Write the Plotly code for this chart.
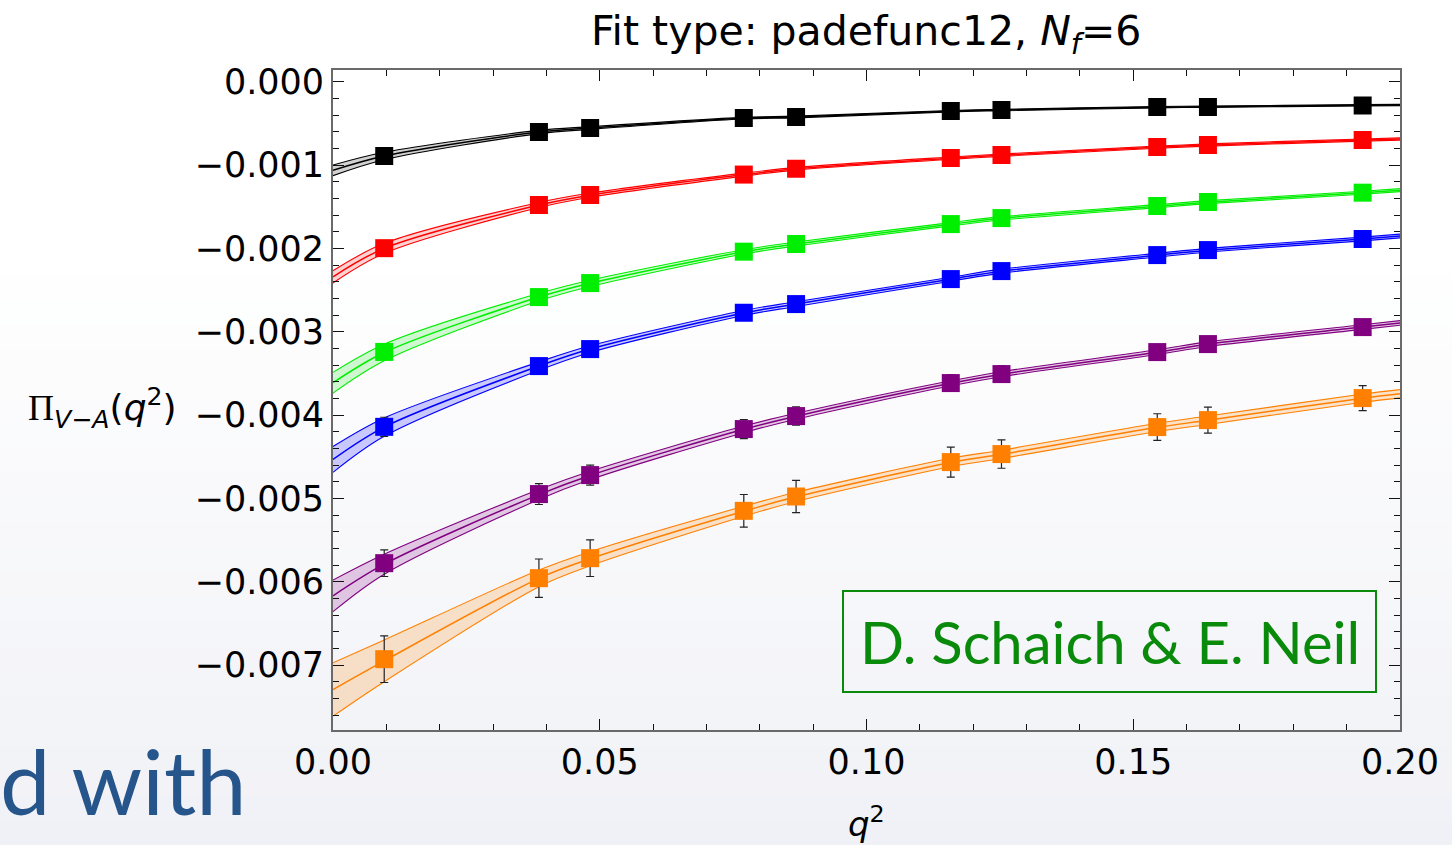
import plotly.graph_objects as go

# ---------------- data ----------------
q2 = [0.0096, 0.0386, 0.0482, 0.0770, 0.0868, 0.1158, 0.1253, 0.1545, 0.1640, 0.1930]

pi_black  = [-0.892e-3, -0.604e-3, -0.556e-3, -0.436e-3, -0.424e-3, -0.352e-3, -0.340e-3, -0.304e-3, -0.304e-3, -0.286e-3]
pi_red    = [-1.998e-3, -1.480e-3, -1.360e-3, -1.115e-3, -1.045e-3, -0.916e-3, -0.880e-3, -0.784e-3, -0.760e-3, -0.700e-3]
pi_green  = [-3.243e-3, -2.585e-3, -2.417e-3, -2.040e-3, -1.948e-3, -1.709e-3, -1.637e-3, -1.492e-3, -1.444e-3, -1.332e-3]
pi_blue   = [-4.142e-3, -3.413e-3, -3.209e-3, -2.773e-3, -2.669e-3, -2.369e-3, -2.273e-3, -2.081e-3, -2.021e-3, -1.888e-3]
pi_purple = [-5.778e-3, -4.949e-3, -4.721e-3, -4.169e-3, -4.013e-3, -3.617e-3, -3.509e-3, -3.245e-3, -3.149e-3, -2.945e-3]
pi_orange = [-6.930e-3, -5.958e-3, -5.718e-3, -5.150e-3, -4.978e-3, -4.565e-3, -4.469e-3, -4.145e-3, -4.061e-3, -3.797e-3]

err_black  = [0.030e-3, 0.020e-3, 0.020e-3, 0.015e-3, 0.015e-3, 0.012e-3, 0.012e-3, 0.010e-3, 0.010e-3, 0.010e-3]
err_red    = [0.050e-3, 0.035e-3, 0.030e-3, 0.030e-3, 0.025e-3, 0.020e-3, 0.020e-3, 0.020e-3, 0.020e-3, 0.020e-3]
err_green  = [0.070e-3, 0.050e-3, 0.050e-3, 0.040e-3, 0.040e-3, 0.035e-3, 0.035e-3, 0.030e-3, 0.030e-3, 0.030e-3]
err_blue   = [0.115e-3, 0.080e-3, 0.075e-3, 0.070e-3, 0.065e-3, 0.060e-3, 0.060e-3, 0.055e-3, 0.055e-3, 0.050e-3]
err_purple = [0.160e-3, 0.125e-3, 0.120e-3, 0.115e-3, 0.110e-3, 0.100e-3, 0.100e-3, 0.090e-3, 0.090e-3, 0.085e-3]
err_orange = [0.280e-3, 0.230e-3, 0.220e-3, 0.196e-3, 0.194e-3, 0.180e-3, 0.170e-3, 0.160e-3, 0.156e-3, 0.150e-3]

# fit curves (central value and half-width of the error band)
fit_q2 = [0.0, 0.0096, 0.0386, 0.0482, 0.0770, 0.0868, 0.1158, 0.1253, 0.1545, 0.1640, 0.1930, 0.2000]

fit_black  = [-1.064e-3, -0.892e-3, -0.604e-3, -0.556e-3, -0.438e-3, -0.424e-3, -0.354e-3, -0.341e-3, -0.306e-3, -0.300e-3, -0.284e-3, -0.280e-3]
fit_red    = [-2.342e-3, -2.000e-3, -1.480e-3, -1.362e-3, -1.115e-3, -1.045e-3, -0.918e-3, -0.882e-3, -0.786e-3, -0.760e-3, -0.701e-3, -0.688e-3]
fit_green  = [-3.613e-3, -3.250e-3, -2.585e-3, -2.420e-3, -2.042e-3, -1.948e-3, -1.711e-3, -1.640e-3, -1.494e-3, -1.446e-3, -1.333e-3, -1.302e-3]
fit_blue   = [-4.533e-3, -4.145e-3, -3.413e-3, -3.209e-3, -2.775e-3, -2.669e-3, -2.370e-3, -2.274e-3, -2.082e-3, -2.022e-3, -1.888e-3, -1.852e-3]
fit_purple = [-6.170e-3, -5.790e-3, -4.955e-3, -4.725e-3, -4.172e-3, -4.015e-3, -3.620e-3, -3.510e-3, -3.246e-3, -3.150e-3, -2.945e-3, -2.895e-3]
fit_orange = [-7.294e-3, -6.950e-3, -5.960e-3, -5.725e-3, -5.155e-3, -4.982e-3, -4.570e-3, -4.472e-3, -4.148e-3, -4.063e-3, -3.798e-3, -3.745e-3]

band_black  = [0.064e-3, 0.045e-3, 0.020e-3, 0.016e-3, 0.010e-3, 0.010e-3, 0.008e-3, 0.008e-3, 0.008e-3, 0.008e-3, 0.008e-3, 0.008e-3]
band_red    = [0.073e-3, 0.060e-3, 0.030e-3, 0.025e-3, 0.018e-3, 0.016e-3, 0.014e-3, 0.014e-3, 0.013e-3, 0.013e-3, 0.013e-3, 0.013e-3]
band_green  = [0.125e-3, 0.100e-3, 0.045e-3, 0.038e-3, 0.026e-3, 0.024e-3, 0.020e-3, 0.020e-3, 0.018e-3, 0.018e-3, 0.018e-3, 0.018e-3]
band_blue   = [0.155e-3, 0.110e-3, 0.050e-3, 0.040e-3, 0.030e-3, 0.028e-3, 0.024e-3, 0.024e-3, 0.022e-3, 0.022e-3, 0.022e-3, 0.022e-3]
band_purple = [0.190e-3, 0.120e-3, 0.060e-3, 0.050e-3, 0.040e-3, 0.035e-3, 0.030e-3, 0.030e-3, 0.028e-3, 0.028e-3, 0.028e-3, 0.028e-3]
band_orange = [0.320e-3, 0.250e-3, 0.100e-3, 0.085e-3, 0.060e-3, 0.055e-3, 0.050e-3, 0.050e-3, 0.050e-3, 0.050e-3, 0.050e-3, 0.050e-3]

x_ticks = [0.00, 0.05, 0.10, 0.15, 0.20]
y_ticks = [0.000, -0.001, -0.002, -0.003, -0.004, -0.005, -0.006, -0.007]

series = [
    ("black",  "#000000", "rgba(0,0,0,0.18)",      pi_black,  err_black,  fit_black,  band_black),
    ("red",    "#ff0000", "rgba(255,0,0,0.18)",    pi_red,    err_red,    fit_red,    band_red),
    ("green",  "#00ee00", "rgba(0,230,0,0.18)",    pi_green,  err_green,  fit_green,  band_green),
    ("blue",   "#0000ff", "rgba(0,0,255,0.2)",     pi_blue,   err_blue,   fit_blue,   band_blue),
    ("purple", "#800080", "rgba(128,0,128,0.2)",   pi_purple, err_purple, fit_purple, band_purple),
    ("orange", "#ff8000", "rgba(255,128,0,0.2)",   pi_orange, err_orange, fit_orange, band_orange),
]

# ---------------- layout geometry (pixels) ----------------
W, H = 1452, 845
PL, PR, PT, PB = 333, 1400, 70, 730


def px_x(p):
    return (p - PL) / (PR - PL)


def px_y(p):
    return (PB - p) / (PB - PT)


fig = go.Figure()

# background gradient of the slide
n_bands = 24
g0, g1 = 250, H
for i in range(n_bands):
    y_top = g0 + (g1 - g0) * i / n_bands
    y_bot = g0 + (g1 - g0) * (i + 1) / n_bands
    t = (i + 0.5) / n_bands
    r = round(255 - 15 * t)
    g = round(255 - 14 * t)
    b = round(255 - 9 * t)
    fig.add_shape(type="rect", xref="paper", yref="paper",
                  x0=px_x(-5), x1=px_x(W + 5), y0=px_y(y_bot + 1), y1=px_y(y_top),
                  fillcolor=f"rgb({r},{g},{b})", line=dict(width=0), layer="below")

# bands and fit lines
for name, col, fill, pts, err, fit, band in series:
    upper = [c + h for c, h in zip(fit, band)]
    lower = [c - h for c, h in zip(fit, band)]
    fig.add_trace(go.Scatter(x=fit_q2, y=lower, mode="lines",
                             line=dict(color=col, width=1.1, shape="spline", smoothing=0.9),
                             showlegend=False, hoverinfo="skip"))
    fig.add_trace(go.Scatter(x=fit_q2, y=upper, mode="lines", fill="tonexty", fillcolor=fill,
                             line=dict(color=col, width=1.1, shape="spline", smoothing=0.9),
                             showlegend=False, hoverinfo="skip"))
    fig.add_trace(go.Scatter(x=fit_q2, y=fit, mode="lines",
                             line=dict(color=col, width=1.5, shape="spline", smoothing=0.9),
                             showlegend=False, hoverinfo="skip"))

# data points
for name, col, fill, pts, err, fit, band in series:
    fig.add_trace(go.Scatter(x=q2, y=pts, mode="markers", name=name,
                             marker=dict(symbol="square", size=18, color=col, line=dict(width=0)),
                             error_y=dict(type="data", array=err, visible=True,
                                          color="#222222", thickness=1.2, width=4),
                             showlegend=False))

axis_common = dict(
    showline=True, linecolor="#6a6a6a", linewidth=1.8, mirror="ticks",
    ticks="inside", tickcolor="#111111", tickwidth=1.2, ticklen=11,
    showgrid=False, zeroline=False,
    tickfont=dict(family="DejaVu Sans", size=35, color="#000000"),
)

fig.update_xaxes(range=[0, 0.2], tickvals=x_ticks, tickformat=".2f",
                 minor=dict(ticks="inside", ticklen=6, tickcolor="#111111", tickwidth=1.1, dtick=0.01),
                 ticklabelstandoff=0, **axis_common)
fig.update_yaxes(range=[-0.00778, 0.00014], tickvals=y_ticks, tickformat=".3f",
                 minor=dict(ticks="inside", ticklen=6, tickcolor="#111111", tickwidth=1.1, dtick=0.0002,
                            tick0=0),
                 ticklabelstandoff=0, **axis_common)

annotations = [
    # title
    dict(text="Fit type: padefunc12, <i>N<sub>f</sub></i>=6", x=px_x(866), y=px_y(34),
         xanchor="center", yanchor="middle",
         font=dict(family="DejaVu Sans", size=41, color="#000000")),
    # y-axis label
    dict(text="<span style='font-family:Liberation Serif'>Π</span><sub><i>V−A</i></sub>(<i>q</i><sup>2</sup>)",
         x=px_x(102), y=px_y(408), xanchor="center", yanchor="middle",
         font=dict(family="DejaVu Sans", size=36, color="#000000")),
    # x-axis label
    dict(text="<i>q</i><sup>2</sup>", x=px_x(866), y=px_y(822), xanchor="center", yanchor="middle",
         font=dict(family="DejaVu Sans", size=34, color="#000000")),
    # slide text behind the chart
    dict(text="d with", x=px_x(-2), y=px_y(780), xanchor="left", yanchor="middle",
         font=dict(family="Lato", size=90, color="#26558b")),
    # credit box text
    dict(text="D. Schaich &amp; E. Neil", x=px_x(1109.5), y=px_y(641), xanchor="center", yanchor="middle",
         font=dict(family="Lato", size=58, color="#0a8a0a")),
]
for a in annotations:
    a.update(xref="paper", yref="paper", showarrow=False)

fig.add_shape(type="rect", xref="paper", yref="paper",
              x0=px_x(843), x1=px_x(1376), y0=px_y(692), y1=px_y(591),
              line=dict(color="#0a8a0a", width=2), fillcolor="rgba(0,0,0,0)", layer="above")

fig.update_layout(
    width=W, height=H, autosize=False,
    margin=dict(l=PL, r=W - PR, t=PT, b=H - PB, pad=0),
    paper_bgcolor="#ffffff", plot_bgcolor="rgba(0,0,0,0)",
    annotations=annotations, showlegend=False,
)

fig.write_html("out.html")
